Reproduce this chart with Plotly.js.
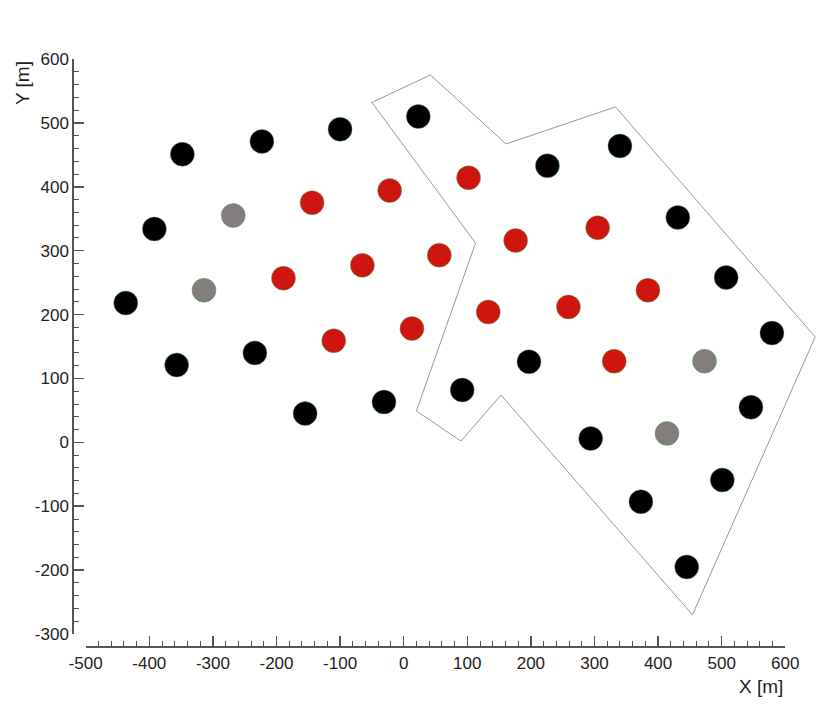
<!DOCTYPE html>
<html>
<head>
<meta charset="utf-8">
<script src="https://cdn.plot.ly/plotly-3.0.1.min.js"></script>
<style>
  html, body { margin: 0; padding: 0; background: #fff; }
  #plot { width: 830px; height: 706px; }
</style>
</head>
<body>
<div id="plot"></div>
<script>
// turbine positions [m]
const blackX = [-348, -223, -100, 23, -392, 226, 340, -437, 431, -357, -234, 507, -155, -31, 92, 197, 579, 294, 546, 373, 501, 445];
const blackY = [451, 471, 490, 510, 334, 433, 464, 218, 352, 121, 140, 258, 45, 63, 82, 126, 171, 6, 55, -93, -59, -195];

const grayX = [-268, -314, 473, 414];
const grayY = [355, 238, 127, 14];

const redX = [-144, -22, 102, -189, -65, 56, 176, 305, -110, 13, 133, 259, 384, 331];
const redY = [375, 394, 414, 257, 277, 293, 316, 336, 159, 178, 204, 212, 238, 127];

// site boundary
const boundaryX = [-50, 42, 161, 333, 647, 454, 153, 90, 20, 113, -50];
const boundaryY = [532, 575, 467, 525, 165, -270, 74, 2, 49, 312, 532];

// tick labels (plain hyphen, as in the original)
const xTicks = [-500, -400, -300, -200, -100, 0, 100, 200, 300, 400, 500, 600];
const yTicks = [-300, -200, -100, 0, 100, 200, 300, 400, 500, 600];
let label = (v) => String(v);

const xRange = [-500, 600];
const yRange = [-300, 600];
const xDom = [0.10325, 0.94614];
const yDom = [0.10198, 0.91643];

// hidden axes covering the whole page with the same scale as the visible ones,
// so the boundary can run past the x=600 end of the axis without clipping
let fullRange = (dom, range) => {
  let span = (range[1] - range[0]) / (dom[1] - dom[0]);
  let lo = range[0] - dom[0] * span;
  return [lo, lo + span];
};

const FONT = "Liberation Sans, Arial, Helvetica, sans-serif";
const AXIS_COLOR = "#555";

let axisStyle = {
  showline: true,
  linecolor: AXIS_COLOR,
  linewidth: 2,
  ticks: "inside",
  ticklen: 10,
  tickwidth: 1.5,
  tickcolor: AXIS_COLOR,
  tickmode: "array",
  minor: { tickmode: "linear", tick0: 0, dtick: 20, ticks: "inside", ticklen: 5, tickwidth: 1, tickcolor: AXIS_COLOR },
  showgrid: false,
  zeroline: false,
  anchor: "free",
  fixedrange: true,
  tickfont: { family: FONT, size: 17, color: "#222" },
};

let rim = { width: 1, color: "rgba(80,170,80,0.45)" };

let data = [
  { x: [], y: [], type: "scatter", xaxis: "x", yaxis: "y", hoverinfo: "skip" },
  {
    x: boundaryX, y: boundaryY, type: "scatter", mode: "lines",
    xaxis: "x2", yaxis: "y2",
    line: { color: "#999", width: 1 },
    hoverinfo: "skip",
  },
  {
    x: blackX, y: blackY, type: "scatter", mode: "markers",
    xaxis: "x2", yaxis: "y2",
    marker: { size: 24, color: "#000", line: rim },
  },
  {
    x: grayX, y: grayY, type: "scatter", mode: "markers",
    xaxis: "x2", yaxis: "y2",
    marker: { size: 24, color: "#837d7d", line: rim },
  },
  {
    x: redX, y: redY, type: "scatter", mode: "markers",
    xaxis: "x2", yaxis: "y2",
    marker: { size: 24, color: "#cf1510", line: rim },
  },
];

let layout = {
  width: 830,
  height: 706,
  margin: { l: 0, r: 0, t: 0, b: 0 },
  paper_bgcolor: "#fff",
  plot_bgcolor: "rgba(0,0,0,0)",
  showlegend: false,
  xaxis: {
    ...axisStyle, domain: xDom, range: xRange, position: 0.0831, side: "bottom",
    tickvals: xTicks, ticktext: xTicks.map(label),
  },
  yaxis: {
    ...axisStyle, domain: yDom, range: yRange, position: 0.0883, side: "left",
    tickvals: yTicks, ticktext: yTicks.map(label),
  },
  xaxis2: { domain: [0, 1], range: fullRange(xDom, xRange), anchor: "y2", visible: false, fixedrange: true },
  yaxis2: { domain: [0, 1], range: fullRange(yDom, yRange), anchor: "x2", visible: false, fixedrange: true },
  annotations: [
    {
      text: "X [m]", xref: "paper", yref: "paper", x: 0.9169, y: 0.0283,
      xanchor: "center", yanchor: "middle",
      showarrow: false, font: { family: FONT, size: 19, color: "#222" },
    },
    {
      text: "Y [m]", xref: "paper", yref: "paper", x: 0.0265, y: 0.8824,
      xanchor: "center", yanchor: "middle",
      textangle: -90, showarrow: false, font: { family: FONT, size: 19, color: "#222" },
    },
  ],
};

Plotly.newPlot("plot", data, layout, { staticPlot: true, displayModeBar: false });
</script>
</body>
</html>
